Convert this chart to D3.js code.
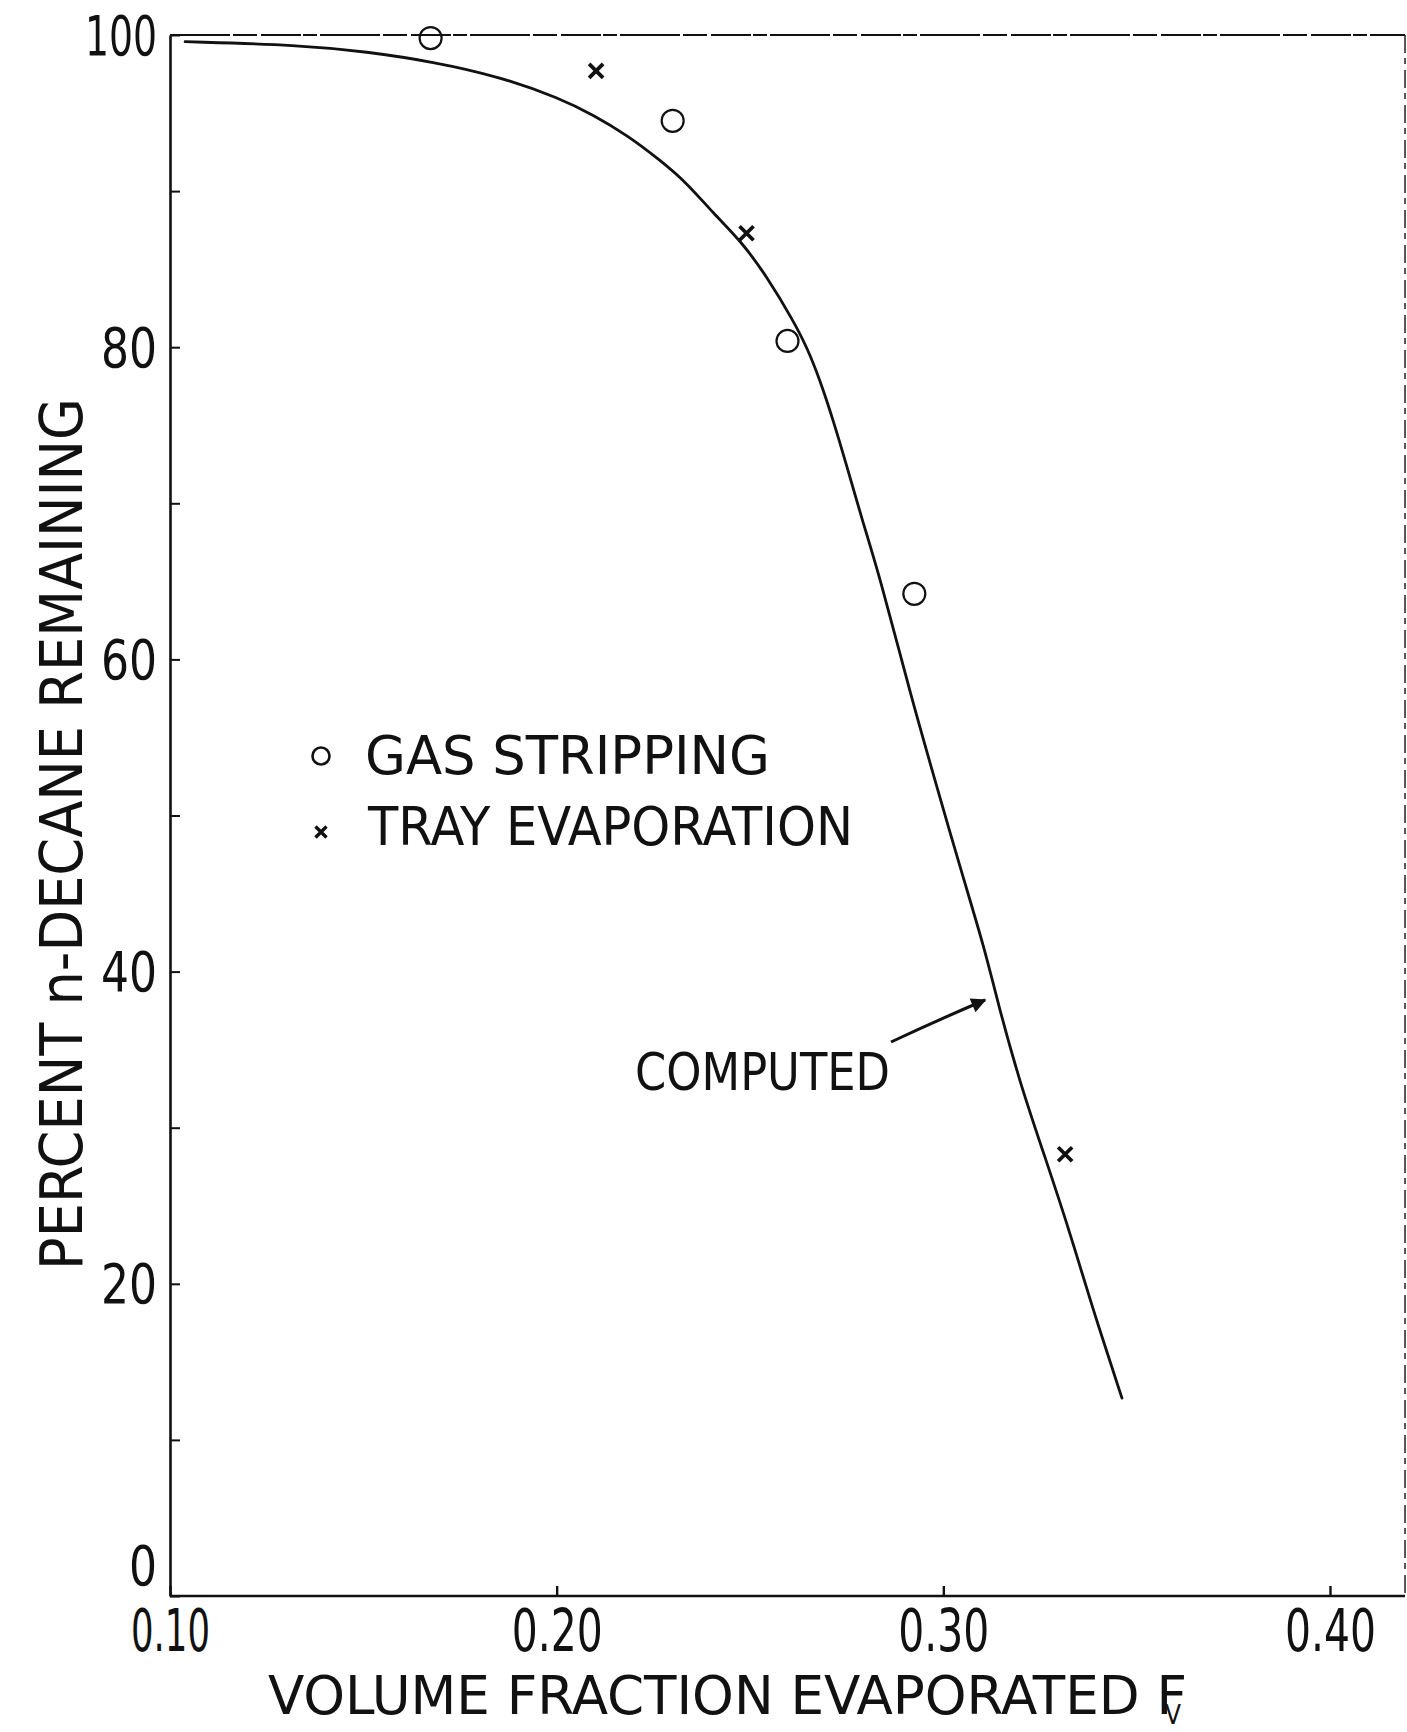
<!DOCTYPE html>
<html>
<head>
<meta charset="utf-8">
<script src="https://cdn.jsdelivr.net/npm/d3@7"></script>
<style>
  html, body { margin: 0; padding: 0; background: #fff; }
  svg { display: block; }
  text { font-family: 'Liberation Sans Narrow', 'DejaVu Sans Condensed', 'Liberation Sans', sans-serif; fill: #111; }
</style>
</head>
<body>
<svg id="chart" width="1407" height="1732"></svg>
<script>
// Volume fraction evaporated vs. percent n-decane remaining
const gasStrippingX = [0.1674, 0.2300, 0.2597, 0.2925];
const gasStrippingY = [99.8, 94.5, 80.4, 64.2];

const trayEvapX = [0.2102, 0.2491, 0.3315];
const trayEvapY = [97.7, 87.3, 28.3];

// computed curve
const computedX = [0.1039, 0.1336, 0.1509, 0.1680, 0.1853, 0.2009, 0.2094, 0.2182, 0.2267, 0.2337,
                   0.2404, 0.2479, 0.2544, 0.2611, 0.2647, 0.2681, 0.2715, 0.2751, 0.2790, 0.2836,
                   0.2914, 0.2973, 0.3043, 0.3108, 0.3139, 0.3198, 0.3263, 0.3328, 0.3379, 0.3462];
const computedY = [99.57, 99.36, 98.93, 98.29, 97.33, 95.94, 94.88, 93.59, 91.99, 90.52,
                   88.60, 86.74, 84.50, 81.74, 80.01, 77.90, 75.34, 72.33, 68.93, 65.28,
                   57.85, 52.72, 46.70, 41.38, 38.18, 32.86, 28.12, 23.25, 18.96, 12.68];

const xTicks = [0.10, 0.20, 0.30, 0.40];
const yTicks = [0, 10, 20, 30, 40, 50, 60, 70, 80, 90, 100];
const yLabelled = [0, 20, 40, 60, 80, 100];

const xTitle = "VOLUME FRACTION EVAPORATED F";
const xTitleSub = "V";
const yTitle = "PERCENT n-DECANE REMAINING";
const legendLabels = ["GAS STRIPPING", "TRAY EVAPORATION"];
const curveLabel = "COMPUTED";

const svg = d3.select("#chart");
const x = d3.scaleLinear().domain([0.10, 0.40]).range([170, 1330]);
const y = d3.scaleLinear().domain([0, 100]).range([1596, 35]);
const xRight = 0.4194;
const ink = "#111";

// narrow lettering: fit each numeral label to a stencil-like width
const glyphWidth = ch => ch === "1" ? 16 : ch === "." ? 7 : 28;
const labelWidth = s => d3.sum(Array.from(s), glyphWidth);

// frame: broken top edge and right edge
svg.append("line")
  .attr("x1", x(0.10)).attr("x2", x(xRight)).attr("y1", y(100)).attr("y2", y(100))
  .attr("stroke", ink).attr("stroke-width", 2)
  .attr("stroke-dasharray", "60 3 24 4 40 2 14 3");
svg.append("line")
  .attr("x1", x(xRight)).attr("x2", x(xRight)).attr("y1", y(100)).attr("y2", y(0))
  .attr("stroke", ink).attr("stroke-width", 1.4)
  .attr("stroke-dasharray", "18 5 6 6");

// axes
const yAxis = d3.axisLeft(y)
  .tickValues(yTicks)
  .tickSize(-10).tickSizeOuter(0).tickPadding(13)
  .tickFormat(d => yLabelled.includes(d) ? String(d) : "");
const gy = svg.append("g").attr("transform", `translate(${x(0.10)},0)`).call(yAxis);
gy.select(".domain").attr("stroke", ink).attr("stroke-width", 2.6);
gy.selectAll(".tick line").attr("stroke", ink).attr("stroke-width", 2);
gy.selectAll(".tick text")
  .attr("font-size", 56)
  .attr("font-family", null)
  .attr("fill", ink)
  .attr("dy", d => d === 0 ? "-0.2em" : "0.34em")
  .each(function(d) {
    const s = yLabelled.includes(d) ? String(d) : "";
    if (s) d3.select(this).attr("textLength", labelWidth(s)).attr("lengthAdjust", "spacingAndGlyphs");
  });

const xAxis = d3.axisBottom(x)
  .tickValues(xTicks)
  .tickSize(-10).tickSizeOuter(0).tickPadding(14)
  .tickFormat(d3.format(".2f"));
const gx = svg.append("g").attr("transform", `translate(0,${y(0)})`).call(xAxis);
gx.select(".domain").attr("stroke", ink).attr("stroke-width", 2.6)
  .attr("d", `M${x(0.10)},0H${x(xRight)}`);
gx.selectAll(".tick line").attr("stroke", ink).attr("stroke-width", 2.4);
gx.selectAll(".tick text")
  .attr("font-size", 58)
  .attr("font-family", null)
  .attr("fill", ink)
  .attr("textLength", d => labelWidth(d3.format(".2f")(d)))
  .attr("lengthAdjust", "spacingAndGlyphs");

// axis titles
svg.append("text")
  .attr("x", 268).attr("y", 1714)
  .attr("font-size", 54)
  .attr("textLength", 919).attr("lengthAdjust", "spacingAndGlyphs")
  .text(xTitle);
svg.append("text")
  .attr("x", 1173).attr("y", 1724)
  .attr("text-anchor", "middle")
  .attr("font-size", 26)
  .text(xTitleSub);

svg.append("text")
  .attr("transform", "translate(82,1270) rotate(-90)")
  .attr("font-size", 58)
  .attr("textLength", 872).attr("lengthAdjust", "spacingAndGlyphs")
  .text(yTitle);

// computed curve
const computed = computedX.map((v, i) => [v, computedY[i]]);
svg.append("path")
  .datum(computed)
  .attr("fill", "none")
  .attr("stroke", ink)
  .attr("stroke-width", 2.8)
  .attr("stroke-linecap", "round")
  .attr("d", d3.line().x(d => x(d[0])).y(d => y(d[1])).curve(d3.curveBasis));

// gas stripping: open circles
svg.append("g").selectAll("circle")
  .data(gasStrippingX.map((v, i) => [v, gasStrippingY[i]]))
  .join("circle")
  .attr("cx", d => x(d[0])).attr("cy", d => y(d[1]))
  .attr("r", 11)
  .attr("fill", "none").attr("stroke", ink).attr("stroke-width", 2.2);

// tray evaporation: crosses
const crossPath = s => `M${-s},${-s}L${s},${s}M${-s},${s}L${s},${-s}`;
svg.append("g").selectAll("path")
  .data(trayEvapX.map((v, i) => [v, trayEvapY[i]]))
  .join("path")
  .attr("transform", d => `translate(${x(d[0])},${y(d[1])})`)
  .attr("d", crossPath(7))
  .attr("stroke", ink).attr("stroke-width", 3.8).attr("fill", "none");

// legend
const legend = svg.append("g");
legend.append("circle")
  .attr("cx", 321).attr("cy", 756).attr("r", 8.5)
  .attr("fill", "none").attr("stroke", ink).attr("stroke-width", 2.6);
legend.append("text")
  .attr("x", 365).attr("y", 774)
  .attr("font-size", 54)
  .attr("textLength", 405).attr("lengthAdjust", "spacingAndGlyphs")
  .text(legendLabels[0]);
legend.append("path")
  .attr("transform", "translate(321,832)")
  .attr("d", crossPath(5.5))
  .attr("stroke", ink).attr("stroke-width", 3.4).attr("fill", "none");
legend.append("text")
  .attr("x", 368).attr("y", 845)
  .attr("font-size", 54)
  .attr("textLength", 485).attr("lengthAdjust", "spacingAndGlyphs")
  .text(legendLabels[1]);

// annotation for the computed curve
svg.append("defs").append("marker")
  .attr("id", "arrowhead")
  .attr("viewBox", "0 0 10 10")
  .attr("refX", 9).attr("refY", 5)
  .attr("markerWidth", 6).attr("markerHeight", 5)
  .attr("markerUnits", "strokeWidth")
  .attr("orient", "auto")
  .append("path").attr("d", "M0,0L10,5L0,10Z").attr("fill", ink);

svg.append("text")
  .attr("x", 635).attr("y", 1090)
  .attr("font-size", 52)
  .attr("textLength", 255).attr("lengthAdjust", "spacingAndGlyphs")
  .text(curveLabel);

svg.append("path")
  .attr("d", "M891,1042 Q938,1020 985,1000")
  .attr("fill", "none").attr("stroke", ink).attr("stroke-width", 3)
  .attr("marker-end", "url(#arrowhead)");
</script>
</body>
</html>
